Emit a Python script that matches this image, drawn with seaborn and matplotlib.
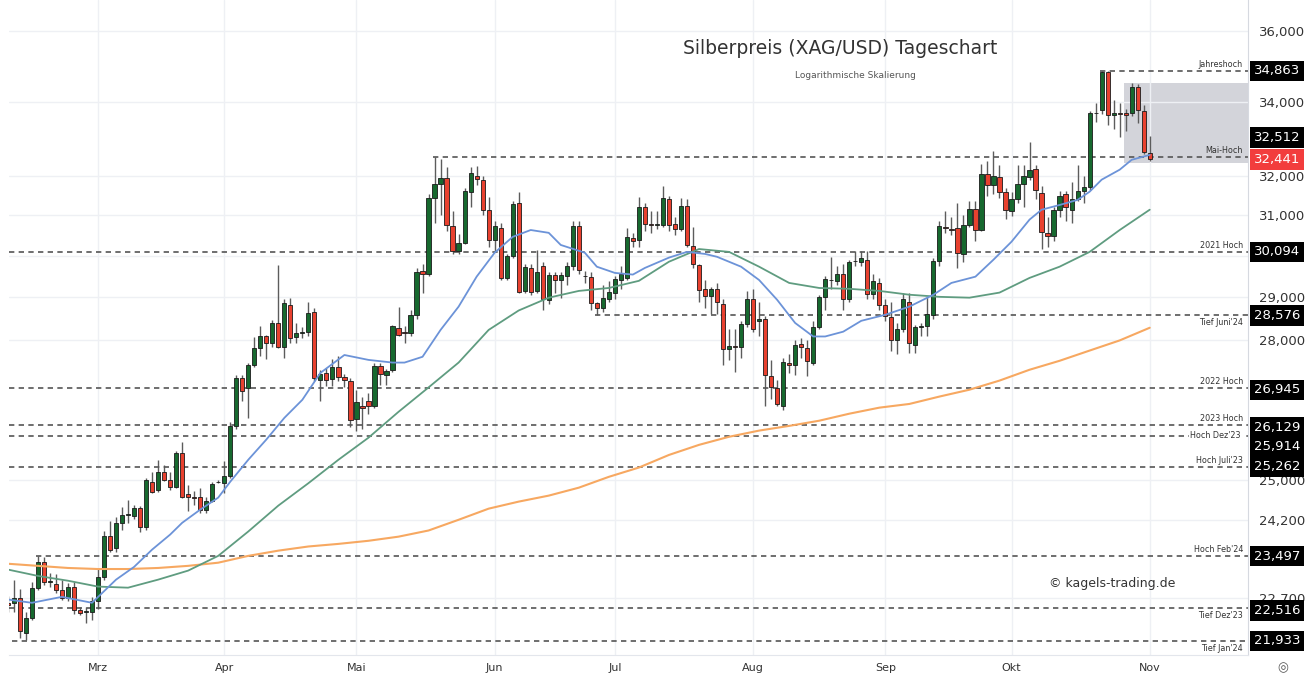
import numpy as np
import pandas as pd
import matplotlib
matplotlib.use("Agg")
import matplotlib.pyplot as plt
import seaborn as sns
from matplotlib.ticker import FixedLocator, NullLocator, FixedFormatter

# Handelstage (Mo-Fr) vom 9. Feb bis 1. Nov 2024
dates = pd.bdate_range("2024-02-09", "2024-11-01")

# OHLC, Monat für Monat
opens = [
    22.62, 22.62, 22.70, 22.07, 22.35, 22.90, 23.39, 23.00, 22.97, 22.85, 22.70, 22.92, 22.49, 22.45, 22.45,
    22.65, 23.10, 23.88, 23.65, 24.14, 24.30, 24.27, 24.43, 24.05, 24.96, 24.80, 25.15, 25.00, 24.86, 25.55, 24.72, 24.66, 24.66, 24.40, 24.58, 24.95,
    24.93, 25.07, 26.11, 27.16, 26.93, 27.45, 27.83, 28.09, 27.94, 28.41, 27.85, 28.82, 28.08, 28.18, 28.20, 28.66, 27.12, 27.26, 27.14, 27.40, 27.17, 27.10,
    26.27, 26.55, 26.66, 26.55, 27.42, 27.22, 27.33, 28.28, 28.20, 28.17, 28.58, 29.63, 29.55, 31.45, 31.80, 31.95, 30.72, 30.10, 30.32, 31.60, 32.00, 31.90, 31.14,
    30.37, 30.67, 29.46, 30.00, 31.30, 29.15, 29.70, 29.15, 29.74, 28.94, 29.53, 29.40, 29.50, 29.74, 30.72, 29.50, 29.48, 28.86, 28.74, 28.96,
    29.10, 29.42, 29.46, 30.44, 30.37, 31.21, 30.78, 30.75, 30.75, 31.42, 30.77, 30.66, 31.24, 30.23, 29.77, 29.20, 29.04, 29.20, 28.83, 27.80, 27.87, 27.85, 28.37,
    28.97, 28.45, 28.50, 27.20, 26.93, 26.55, 27.50, 27.44, 27.92, 27.83, 27.50, 28.30, 29.00, 29.40, 29.38, 29.55, 28.95, 29.86, 29.85, 29.90, 29.07, 29.35,
    28.82, 28.53, 28.00, 28.25, 28.88, 27.90, 28.30, 28.32, 28.58, 29.86, 30.70, 30.66, 30.68, 30.05, 30.76, 31.17, 30.64, 32.05, 31.76, 31.98, 31.60,
    31.10, 31.40, 31.80, 31.98, 32.18, 31.56, 30.55, 30.49, 31.13, 31.53, 31.13, 31.42, 31.62, 31.71, 33.68, 33.77, 34.84, 33.64, 33.68, 33.70, 33.68, 34.42, 33.73,
    32.60,
]
highs = [
    22.75, 23.05, 22.88, 22.45, 23.00, 23.50, 23.47, 23.18, 23.15, 23.05, 22.99, 23.00, 22.55, 22.55, 22.72,
    23.25, 23.98, 24.18, 24.25, 24.45, 24.60, 24.50, 24.47, 25.03, 25.15, 25.40, 25.30, 25.15, 25.60, 25.77, 24.90, 24.78, 24.83, 24.65, 24.95, 24.99,
    25.38, 26.20, 27.23, 27.23, 27.50, 28.08, 28.33, 28.13, 28.48, 29.78, 28.95, 28.98, 28.40, 28.30, 28.90, 28.75, 27.33, 27.38, 27.57, 27.65, 27.25, 27.15,
    26.90, 26.75, 26.82, 27.48, 27.50, 27.35, 28.36, 28.77, 28.32, 28.70, 29.70, 29.80, 31.55, 32.51, 32.45, 32.25, 31.10, 30.52, 31.70, 32.25, 32.27, 32.00, 31.47,
    30.85, 30.80, 30.05, 31.37, 31.60, 29.80, 29.80, 30.14, 29.85, 29.60, 29.60, 29.60, 29.85, 30.85, 30.85, 29.62, 29.60, 28.90, 29.30, 29.38,
    29.50, 29.75, 30.69, 30.55, 31.47, 31.30, 31.10, 31.10, 31.75, 31.50, 30.95, 31.45, 31.40, 30.70, 29.80, 29.40, 29.25, 29.35, 28.95, 28.25, 28.25, 28.45, 29.15,
    29.20, 28.90, 28.55, 27.56, 27.12, 27.60, 27.70, 28.00, 28.05, 28.00, 28.45, 29.05, 29.50, 29.97, 29.75, 29.80, 29.90, 30.12, 30.10, 30.10, 29.55, 29.45,
    28.95, 28.90, 28.40, 29.10, 29.10, 28.35, 28.40, 29.00, 29.95, 30.85, 31.10, 30.95, 31.30, 31.00, 31.35, 31.35, 32.32, 32.40, 32.66, 32.30, 31.70,
    31.60, 32.30, 32.30, 32.91, 32.30, 31.75, 30.95, 31.20, 31.62, 31.62, 31.85, 32.30, 32.00, 33.75, 33.95, 34.86, 34.86, 34.05, 33.95, 33.80, 34.52, 34.50, 33.90,
    33.07,
]
lows = [
    22.45, 22.46, 21.98, 21.95, 22.30, 22.85, 22.95, 22.92, 22.80, 22.67, 22.66, 22.42, 22.40, 22.26, 22.30,
    22.50, 23.05, 23.58, 23.58, 24.00, 24.14, 24.22, 23.96, 24.00, 24.74, 24.76, 24.97, 24.80, 24.83, 24.63, 24.38, 24.50, 24.34, 24.33, 24.56, 24.93,
    24.74, 25.03, 26.05, 26.66, 26.29, 27.40, 27.64, 27.57, 27.86, 27.83, 27.60, 27.95, 27.95, 28.05, 28.10, 27.10, 26.66, 26.98, 26.98, 27.10, 26.95, 26.10,
    26.02, 26.05, 26.38, 26.50, 27.00, 27.00, 27.30, 28.10, 27.95, 28.10, 28.50, 29.10, 29.50, 30.80, 31.00, 30.60, 30.05, 30.05, 30.28, 31.20, 31.77, 31.00, 30.20,
    30.10, 29.40, 29.40, 29.95, 29.10, 29.10, 29.05, 29.10, 28.70, 28.85, 29.10, 28.98, 29.30, 29.65, 29.55, 29.35, 28.70, 28.58, 28.65, 28.90,
    28.95, 29.20, 29.40, 30.20, 30.20, 30.60, 30.55, 30.65, 30.70, 30.60, 30.50, 30.60, 30.20, 29.70, 28.90, 28.75, 28.60, 28.60, 27.44, 27.55, 27.30, 27.60, 28.30,
    28.20, 28.10, 26.54, 26.70, 26.54, 26.45, 27.27, 27.23, 27.60, 27.20, 27.45, 28.25, 28.70, 29.20, 29.30, 28.70, 28.90, 29.75, 29.75, 28.97, 28.95, 28.70,
    28.45, 27.77, 27.70, 28.20, 27.72, 27.72, 28.10, 28.10, 28.50, 29.75, 30.55, 30.50, 29.70, 29.85, 30.70, 30.35, 30.60, 31.50, 31.55, 31.45, 30.90,
    30.97, 31.30, 31.20, 31.90, 31.40, 30.15, 30.20, 30.35, 30.95, 30.85, 30.80, 31.35, 31.30, 31.65, 33.45, 33.65, 33.35, 33.25, 33.05, 33.20, 33.60, 33.42, 32.58,
    32.40,
]
closes = [
    22.58, 22.70, 22.10, 22.35, 22.90, 23.39, 23.00, 23.02, 22.85, 22.70, 22.92, 22.49, 22.44, 22.47, 22.66,
    23.10, 23.88, 23.62, 24.14, 24.30, 24.32, 24.43, 24.05, 25.00, 24.76, 25.16, 25.00, 24.86, 25.55, 24.66, 24.66, 24.64, 24.40, 24.58, 24.92, 24.96,
    25.07, 26.11, 27.16, 26.88, 27.45, 27.83, 28.11, 27.93, 28.40, 27.85, 28.86, 28.06, 28.16, 28.20, 28.64, 27.16, 27.25, 27.12, 27.40, 27.17, 27.12, 26.25,
    26.63, 26.50, 26.55, 27.43, 27.24, 27.32, 28.32, 28.13, 28.16, 28.58, 29.61, 29.55, 31.45, 31.80, 31.95, 30.76, 30.10, 30.32, 31.63, 32.08, 31.92, 31.14, 30.37,
    30.72, 29.46, 29.98, 31.29, 29.13, 29.72, 29.13, 29.60, 28.96, 29.53, 29.40, 29.53, 29.74, 30.72, 29.65, 29.50, 28.87, 28.75, 28.99, 29.13,
    29.43, 29.55, 30.45, 30.36, 31.21, 30.78, 30.75, 30.77, 31.44, 30.76, 30.65, 31.24, 30.27, 29.80, 29.18, 29.04, 29.20, 28.88, 27.80, 27.87, 27.85, 28.37, 28.97,
    28.25, 28.50, 27.23, 26.95, 26.58, 27.52, 27.44, 27.90, 27.85, 27.53, 28.31, 29.00, 29.44, 29.42, 29.55, 28.97, 29.85, 29.86, 29.93, 29.07, 29.38, 28.82,
    28.55, 28.00, 28.25, 28.95, 27.95, 28.30, 28.32, 28.60, 29.86, 30.72, 30.68, 30.63, 30.06, 30.76, 31.17, 30.64, 32.06, 31.76, 32.00, 31.60, 31.13,
    31.40, 31.80, 32.00, 32.15, 31.65, 30.59, 30.49, 31.13, 31.50, 31.20, 31.42, 31.62, 31.72, 33.68, 33.70, 34.84, 33.64, 33.68, 33.65, 33.64, 34.42, 33.76, 32.64,
    32.44,
]

sma20_dates = [
    "2024-02-09", "2024-02-15", "2024-02-22", "2024-02-29", "2024-03-06", "2024-03-11", "2024-03-14",
    "2024-03-19", "2024-03-21", "2024-03-26", "2024-03-29", "2024-04-02", "2024-04-05", "2024-04-10",
    "2024-04-15", "2024-04-18", "2024-04-23", "2024-04-29", "2024-05-03", "2024-05-09", "2024-05-13",
    "2024-05-16", "2024-05-21", "2024-05-24", "2024-05-29", "2024-06-03", "2024-06-06", "2024-06-11",
    "2024-06-14", "2024-06-18", "2024-06-24", "2024-06-26", "2024-07-01", "2024-07-04", "2024-07-08",
    "2024-07-12", "2024-07-17", "2024-07-22", "2024-07-24", "2024-07-30", "2024-08-02", "2024-08-07",
    "2024-08-12", "2024-08-15", "2024-08-19", "2024-08-22", "2024-08-27", "2024-09-02", "2024-09-06",
    "2024-09-12", "2024-09-17", "2024-09-23", "2024-09-26", "2024-10-01", "2024-10-04", "2024-10-08",
    "2024-10-11", "2024-10-16", "2024-10-18", "2024-10-22", "2024-10-25", "2024-10-29", "2024-11-01",
]
sma20 = [
    22.68, 22.62, 22.73, 22.62, 23.05, 23.29, 23.62, 23.91, 24.14, 24.40, 24.64, 24.96, 25.41, 25.83,
    26.29, 26.68, 27.27, 27.67, 27.56, 27.50, 27.50, 27.63, 28.24, 28.78, 29.49, 30.07, 30.46, 30.63,
    30.56, 30.26, 30.07, 29.73, 29.58, 29.54, 29.70, 29.95, 30.09, 30.04, 29.97, 29.73, 29.41, 28.94,
    28.40, 28.09, 28.09, 28.20, 28.45, 28.59, 28.78, 29.06, 29.34, 29.49, 29.90, 30.34, 30.89, 31.14,
    31.26, 31.39, 31.60, 31.91, 32.17, 32.43, 32.56,
]
sma50 = [23.24, 23.12, 23.03, 22.92, 22.90, 23.05, 23.22, 23.50, 23.97, 24.48, 24.93, 25.41, 25.87,
         26.42, 26.95, 27.50, 28.24, 28.69, 28.99, 29.15, 29.22, 29.39, 29.85, 30.16, 30.09, 29.73,
         29.34, 29.22, 29.20, 29.15, 29.06, 29.01, 28.99, 29.11, 29.46, 29.73, 30.09, 30.63, 31.14]
sma200 = [23.35, 23.31, 23.27, 23.25, 23.25, 23.27, 23.31, 23.37, 23.50, 23.60, 23.68, 23.73, 23.79,
          23.87, 23.99, 24.20, 24.42, 24.56, 24.68, 24.84, 25.06, 25.25, 25.51, 25.72, 25.89, 26.02,
          26.12, 26.23, 26.38, 26.51, 26.59, 26.75, 26.90, 27.10, 27.34, 27.54, 27.77, 28.00, 28.29]

# Marken
level_values = [34.863, 32.512, 30.094, 28.576, 26.945, 26.129, 25.914, 25.262, 23.497, 22.516, 21.933]
level_names = ["Jahreshoch", "Mai-Hoch", "2021 Hoch", "Tief Juni'24", "2022 Hoch", "2023 Hoch",
               "Hoch Dez'23", "Hoch Juli'23", "Hoch Feb'24", "Tief Dez'23", "Tief Jan'24"]
level_start = ["2024-10-22", "2024-05-20", None, "2024-06-26", None, None, None, None,
               "2024-02-16", None, "2024-02-12"]
level_text = ["above", "above", "above", "below", "above", "above", "on", "above", "above",
              "below", "below"]
# Verschiebung der Preisschilder an der Skala (in Punkten), damit sie sich nicht decken
label_shift = [0, 13.7, 0, 0, -1.5, -1.4, -7.9, 0, 0, -1.4, 0]

last_price = 32.441
zone_start = "2024-10-28"
zone_low, zone_high = 32.35, 34.52

price_ticks = [22.7, 24.2, 25.0, 28.0, 29.0, 30.0, 31.0, 32.0, 34.0, 36.0]
month_labels = ["Mrz", "Apr", "Mai", "Jun", "Jul", "Aug", "Sep", "Okt", "Nov"]

sns.set_style("white")
plt.rcParams["font.family"] = ["DejaVu Sans"]

W, H = 1316, 680
fig = plt.figure(figsize=(W / 100, H / 100), dpi=100, facecolor="white")
ax_l, ax_r, ax_t, ax_b = 9, 1248, 0, 655
ax = fig.add_axes([ax_l / W, 1 - ax_b / H, (ax_r - ax_l) / W, (ax_b - ax_t) / H])
ax.set_yscale("log")

x = np.arange(len(dates))
o, h, l, c = map(np.array, (opens, highs, lows, closes))
up = c >= o

x_left, x_right = 0.19, 206.35

# Zone der letzten Tage
zs = dates.get_loc(pd.Timestamp(zone_start)) - 0.35
ax.fill_between([zs, x_right], zone_low, zone_high, color="#cfd0d6", alpha=0.9, lw=0, zorder=0.5)

# Kerzen
ax.vlines(x, l, h, color="#5c5c5c", lw=1.0, zorder=2)
body_lo = np.minimum(o, c)
body_h = np.abs(c - o)
ax.bar(x[up], body_h[up], bottom=body_lo[up], width=0.7, color="#17692f",
       edgecolor="#1a1a1a", linewidth=0.6, zorder=3)
ax.bar(x[~up], body_h[~up], bottom=body_lo[~up], width=0.7, color="#e8412f",
       edgecolor="#1a1a1a", linewidth=0.6, zorder=3)

# gleitende Durchschnitte
ma_x = x[::5]
sma20_x = [dates.get_loc(pd.Timestamp(d)) for d in sma20_dates]
sns.lineplot(x=ma_x, y=sma200, ax=ax, color="#f7a861", lw=1.5, zorder=4)
sns.lineplot(x=ma_x, y=sma50, ax=ax, color="#5f9c80", lw=1.3, zorder=4)
sns.lineplot(x=sma20_x, y=sma20, ax=ax, color="#6c93d8", lw=1.3, zorder=4)

# horizontale Marken
for val, name, start, pos, shift in zip(level_values, level_names, level_start, level_text, label_shift):
    xs = x_left if start is None else dates.get_loc(pd.Timestamp(start)) - 0.3
    ax.hlines(val, xs, x_right, colors="#555555", linestyles=(0, (3.2, 2.6)), lw=1.2, zorder=2.5)
    if pos == "above":
        ax.annotate(name, xy=(0.996, val), xycoords=("axes fraction", "data"), xytext=(0, 1.5),
                    textcoords="offset points", ha="right", va="bottom", fontsize=5.8,
                    color="#333333", zorder=6)
    elif pos == "below":
        ax.annotate(name, xy=(0.996, val), xycoords=("axes fraction", "data"), xytext=(0, -2),
                    textcoords="offset points", ha="right", va="top", fontsize=5.8,
                    color="#333333", zorder=6)
    else:
        ax.annotate(name, xy=(0.994, val), xycoords=("axes fraction", "data"), xytext=(0, 0),
                    textcoords="offset points", ha="right", va="center", fontsize=5.8,
                    color="#333333", zorder=6,
                    bbox=dict(boxstyle="square,pad=0.15", fc="white", ec="none"))
    ax.annotate(f"{val:.3f}".replace(".", ","), xy=(1.0048, val),
                xycoords=("axes fraction", "data"), xytext=(0, shift), textcoords="offset points",
                ha="left", va="center", fontsize=9.5, color="white", zorder=10,
                annotation_clip=False,
                bbox=dict(boxstyle="square,pad=0.28", fc="black", ec="none"))

ax.annotate(f"{last_price:.3f}".replace(".", ","), xy=(1.0048, last_price),
            xycoords=("axes fraction", "data"), xytext=(0, 0), textcoords="offset points",
            ha="left", va="center", fontsize=9.5, color="white", zorder=11,
            annotation_clip=False,
            bbox=dict(boxstyle="square,pad=0.28", fc="#f23d3d", ec="none"))

# Achsen
ax.set_xlim(x_left, x_right)
ax.set_ylim(21.68, 36.93)
month_pos = [int(np.argmax(dates.month == m)) for m in range(3, 12)]
ax.xaxis.set_major_locator(FixedLocator(month_pos))
ax.xaxis.set_major_formatter(FixedFormatter(month_labels))
ax.yaxis.set_major_locator(FixedLocator(price_ticks))
ax.yaxis.set_minor_locator(NullLocator())
ax.yaxis.set_major_formatter(FixedFormatter(
    ["" if v == 30.0 else f"{v:.3f}".replace(".", ",") for v in price_ticks]))
ax.yaxis.tick_right()
ax.tick_params(axis="y", length=0, pad=8, labelsize=9.5, labelcolor="#333333")
ax.tick_params(axis="x", length=0, pad=6, labelsize=8, labelcolor="#333333")
ax.grid(True, color="#eef0f4", lw=1.0, zorder=0)
ax.set_axisbelow(True)
ax.set_xlabel("")
ax.set_ylabel("")
for side in ["top", "left"]:
    ax.spines[side].set_visible(False)
ax.spines["right"].set_color("#d6d9e0")
ax.spines["bottom"].set_color("#e3e6ec")

fig.text(840 / W, 1 - 48 / H, "Silberpreis (XAG/USD) Tageschart", ha="center", va="center",
         fontsize=13.5, color="#333333")
fig.text(855 / W, 1 - 75 / H, "Logarithmische Skalierung", ha="center", va="center",
         fontsize=6.5, color="#555555")
fig.text(1112 / W, 1 - 583 / H, "\u00a9 kagels-trading.de", ha="center", va="center",
         fontsize=9, color="#333333")
fig.text(1283 / W, 1 - 668 / H, "\u25ce", ha="center", va="center", fontsize=9, color="#555555")

fig.savefig("out.png", dpi=100, facecolor="white")
